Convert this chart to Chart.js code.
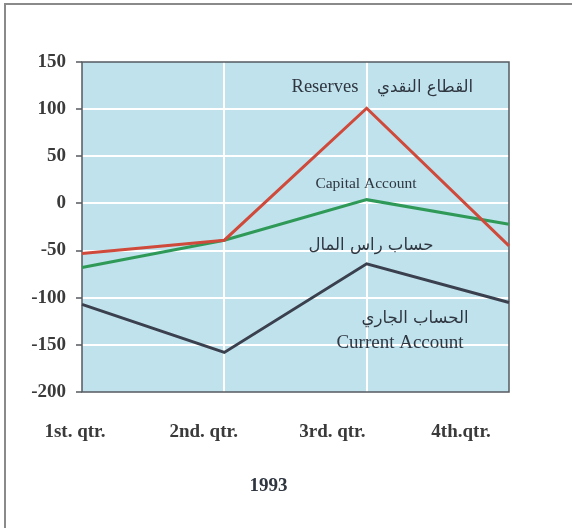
<!DOCTYPE html>
<html>
<head>
<meta charset="utf-8">
<script src="https://cdn.jsdelivr.net/npm/chart.js@4.4.1/dist/chart.umd.min.js"></script>
<style>
  html, body { margin: 0; padding: 0; background: #fff; }
  #wrap { position: relative; width: 572px; height: 528px; }
  #frame { position: absolute; left: 4px; top: 3px; right: -10px; bottom: -10px;
           border-left: 2px solid #8a8a8a; border-top: 2px solid #8a8a8a; pointer-events: none; }
  canvas { display: block; }
</style>
</head>
<body>
<div id="wrap">
  <canvas id="c" width="572" height="528"></canvas>
  <div id="frame"></div>
</div>
<script>
// ---- data ----
const quarters = ['1st. qtr.', '2nd. qtr.', '3rd. qtr.', '4th.qtr.'];
const reserves = [-53, -39, 101, -45];
const capitalAccount = [-68, -39, 4, -22];
const currentAccount = [-107, -158, -64, -105];
const yTicks = [150, 100, 50, 0, -50, -100, -150, -200];
const xTitle = '1993';

// annotation texts (positions in data units of the x index / y value)
const notes = [
  { text: 'Reserves', x: 1.707, y: 123, font: '18.5px "Liberation Serif"' },
  { text: 'القطاع النقدي', x: 2.41, y: 123, font: '16.5px "DejaVu Sans"' },
  { text: 'Capital Account', x: 1.995, y: 21, font: '15.5px "Liberation Serif"' },
  { text: 'حساب راس المال', x: 2.03, y: -44.5, font: '16.5px "DejaVu Sans"' },
  { text: 'الحساب الجاري', x: 2.34, y: -122, font: '16.5px "DejaVu Sans"' },
  { text: 'Current Account', x: 2.234, y: -148.5, font: '19px "Liberation Serif"' },
  { text: xTitle, x: 1.31, y: -300, font: 'bold 19px "Liberation Serif"' }
];

const bgPlugin = {
  id: 'bg',
  beforeDraw(chart) {
    const { ctx, chartArea: a } = chart;
    ctx.save();
    ctx.fillStyle = '#bfe2ec';
    ctx.fillRect(a.left, a.top, a.right - a.left, a.bottom - a.top);
    ctx.restore();
  },
  beforeDatasetsDraw(chart) {
    const { ctx, chartArea: a } = chart;
    ctx.save();
    ctx.strokeStyle = '#555a60';
    ctx.lineWidth = 1.5;
    ctx.strokeRect(a.left, a.top, a.right - a.left, a.bottom - a.top);
    ctx.restore();
  },
  afterDatasetsDraw(chart) {
    const { ctx } = chart;
    const xs = chart.scales.x, ys = chart.scales.y;
    ctx.save();
    ctx.fillStyle = '#2f3640';
    ctx.textAlign = 'center';
    ctx.textBaseline = 'middle';
    notes.forEach(n => {
      ctx.font = n.font;
      ctx.fillText(n.text, xs.getPixelForValue(n.x), ys.getPixelForValue(n.y));
    });
    ctx.restore();
  }
};

new Chart(document.getElementById('c'), {
  type: 'line',
  data: {
    labels: quarters,
    datasets: [
      { label: 'Reserves', data: reserves, borderColor: '#d04a3b', borderWidth: 3 },
      { label: 'Capital Account', data: capitalAccount, borderColor: '#2f9a58', borderWidth: 3 },
      { label: 'Current Account', data: currentAccount, borderColor: '#3b404e', borderWidth: 3 }
    ]
  },
  options: {
    responsive: false,
    devicePixelRatio: 1,
    animation: false,
    layout: { padding: { left: 0, top: 62, right: 63, bottom: 0 } },
    elements: { point: { radius: 0 }, line: { tension: 0, fill: false } },
    plugins: { legend: { display: false }, tooltip: { enabled: false } },
    scales: {
      x: {
        type: 'category',
        offset: false,
        position: 'bottom',
        weight: 2,
        border: { display: false },
        grid: {
          color: c => (c.index === 0 || c.index === quarters.length - 1) ? 'rgba(0,0,0,0)' : '#ffffff',
          lineWidth: 2,
          drawTicks: false
        },
        ticks: { display: false },
        afterFit: s => { s.height = 0; }
      },
      xl: {
        type: 'linear',
        position: 'bottom',
        weight: 1,
        min: 0, max: 3.318,
        border: { display: false },
        grid: { display: false, drawTicks: false },
        ticks: {
          stepSize: 1,
          includeBounds: false,
          autoSkip: false,
          maxRotation: 0,
          labelOffset: -7,
          padding: 29,
          color: '#3a3a3a',
          font: { family: '"Liberation Serif"', size: 19, weight: 'bold' },
          callback: v => (Number.isInteger(v) && quarters[v] !== undefined) ? quarters[v] : ''
        },
        afterFit: s => { s.height = 136; }
      },
      y: {
        min: -200, max: 150,
        border: { display: false },
        grid: {
          color: c => (c.tick && (c.tick.value === 150 || c.tick.value === -200)) ? 'rgba(0,0,0,0)' : '#ffffff',
          lineWidth: 2,
          tickColor: '#555a60',
          tickLength: 6,
          tickWidth: 1.5
        },
        afterBuildTicks: s => { s.ticks = yTicks.map(v => ({ value: v })); },
        ticks: {
          padding: 10,
          color: '#3a3a3a',
          font: { family: '"Liberation Serif"', size: 19, weight: 'bold' }
        },
        afterFit: s => { s.width = 82; }
      }
    }
  },
  plugins: [bgPlugin]
});
</script>
</body>
</html>
